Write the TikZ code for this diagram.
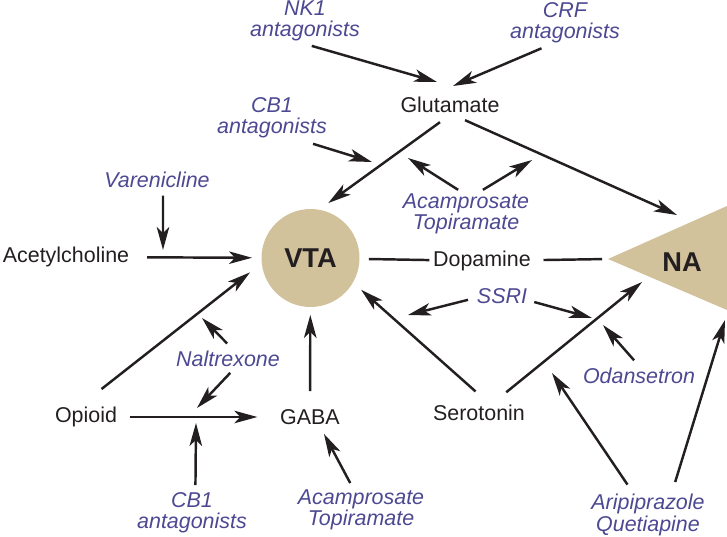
\documentclass[tikz,border=0pt]{standalone}
\usepackage{fontspec}
\setmainfont{Liberation Sans}
\usetikzlibrary{arrows.meta}
\definecolor{regioncol}{RGB}{210,194,156}
\definecolor{drugcol}{RGB}{76,73,146}
\definecolor{arrowcol}{RGB}{35,31,32}
\tikzset{
  > = {Stealth[length = 4.6mm, width = 2.5mm, inset = 1.2mm]},   % long notched heads
  transmitter/.style = {inner sep = 2pt, align = center, text = arrowcol,
    font = \fontsize{12.2}{12.2}\selectfont},
  drug/.style = {transmitter, text = drugcol,
    font = \fontsize{12.2}{12.2}\selectfont\itshape},
  region/.style = {circle, fill = regioncol, inner sep = 0pt, outer sep = 0pt,
    minimum size = 1.96cm, text = arrowcol, font = \fontsize{15.5}{15.5}\selectfont\bfseries},
  regionlabel/.style = {inner sep = 0pt, text = arrowcol,
    font = \fontsize{15.5}{15.5}\selectfont\bfseries},
  effect/.style = {->, line width = 1.4pt, draw = arrowcol},
  link/.style = {line width = 1.4pt, draw = arrowcol}
}

\begin{document}
\begin{tikzpicture}[x = 0.02cm, y = -0.02cm]
\useasboundingbox (0,0) rectangle (727,537);

%% Brain regions
\fill [regioncol] (608,259) coordinate (natip) -- (727,206) -- (727,310) -- cycle;
\node [region] (vta) at (310.5,258) {VTA};
\node [regionlabel] (na) at (682,262) {NA};

%% Transmitters
\node [transmitter] (glu) at (450,105) {Glutamate};
\node [transmitter] (ach) at (66,257) {Acetylcholine};
\node [transmitter] (dopa) at (482,261) {Dopamine};
\node [transmitter] (opi) at (86,417) {Opioid};
\node [transmitter] (gaba) at (310,417) {GABA};
\node [transmitter] (sero) at (479,412.5) {Serotonin};

%% Drugs
\node [drug] (nk) at (305,21) {NK1\\antagonists};
\node [drug] (crf) at (565,23) {CRF\\antagonists};
\node [drug] (cbA) at (272,118) {CB1\\antagonists};
\node [drug] (acamA) at (466,214) {Acamprosate\\Topiramate};
\node [drug] (var) at (157,179.5) {Varenicline};
\node [drug] (nal) at (228,359) {Naltrexone};
\node [drug] (cbB) at (192,513) {CB1\\antagonists};
\node [drug] (acamB) at (361,510) {Acamprosate\\Topiramate};
\node [drug] (ssri) at (502,296) {SSRI};
\node [drug] (ond) at (639,376) {Odansetron};
\node [drug] (ari) at (648,515) {Aripiprazole\\Quetiapine};

%% Points where drugs act
\coordinate (glunk) at (437,82);
\coordinate (glucrf) at (453,86);
\coordinate (glucb) at (372,162);
\coordinate (acaml) at (408,158);
\coordinate (acamr) at (532,160);
\coordinate (achvar) at (163,250);
\coordinate (opinal) at (202,318);
\coordinate (opinalb) at (197,408);
\coordinate (opicb) at (196,423);
\coordinate (ssril) at (408,315);
\coordinate (ssrir) at (592,318);
\coordinate (seroond) at (603,325);
\coordinate (aril) at (552,373);
\coordinate (naglu) at (677,215);
\coordinate (nasero) at (642,282);
\coordinate (naari) at (725,320);

%% Glutamate
\draw [effect, shorten < = 1.5pt] (nk.280) -- (glunk);
\draw [effect, shorten < = 1.5pt] (crf.229) -- (glucrf);
\draw [effect, shorten < = 5.3pt, shorten > = 6.5pt] (glu.258) -- (vta.80);
\draw [effect, shorten < = 4.8pt] (glu.302) -- (naglu);
\draw [effect, shorten < = 3pt] (cbA.326) -- (glucb);
\draw [effect] (acamA.108) -- (acaml);
\draw [effect] (acamA.55) -- (acamr);

%% Acetylcholine
\draw [effect, shorten < = 2.5pt] (var.297) -- (achvar);
\draw [effect, shorten < = 8pt, shorten > = 5.4pt] (ach) -- (vta);

%% Opioid
\draw [effect, shorten < = 13pt, shorten > = 8.5pt] (opi.100) -- (vta.186);
\draw [effect, shorten < = 3pt] (nal.76) -- (opinal);
\draw [effect, shorten < = 1.7pt] (nal.290) -- (opinalb);
\draw [effect, shorten < = 5.4pt, shorten > = 10.8pt] (opi) -- (gaba);
\draw [effect, shorten < = 2pt] (cbB.82) -- (opicb);

%% GABA
\draw [effect, shorten < = 8.2pt, shorten > = 4.5pt] (gaba) -- (vta);
\draw [effect, shorten < = 1.8pt, shorten > = 3.5pt] (acamB.111) -- (gaba.314);

%% Dopamine
\draw [link, shorten < = 5.4pt] (vta) -- (dopa);
\draw [link, shorten < = 5pt, shorten > = 3.4pt] (dopa) -- (natip);

%% Serotonin
\draw [effect, shorten < = 8pt, shorten > = 6.2pt] (sero.59) -- (vta.330);
\draw [effect, shorten < = 7.7pt] (sero.35) -- (nasero);
\draw [effect, shorten < = 3pt] (ssri.185) -- (ssril);
\draw [effect, shorten < = 2pt] (ssri.350) -- (ssrir);
\draw [effect, shorten < = 3pt] (ond.97) -- (seroond);
\draw [effect, shorten < = 4pt] (ari.124) -- (aril);
\draw [effect, shorten < = 5pt] (ari.45) -- (naari);

\end{tikzpicture}
\end{document}
